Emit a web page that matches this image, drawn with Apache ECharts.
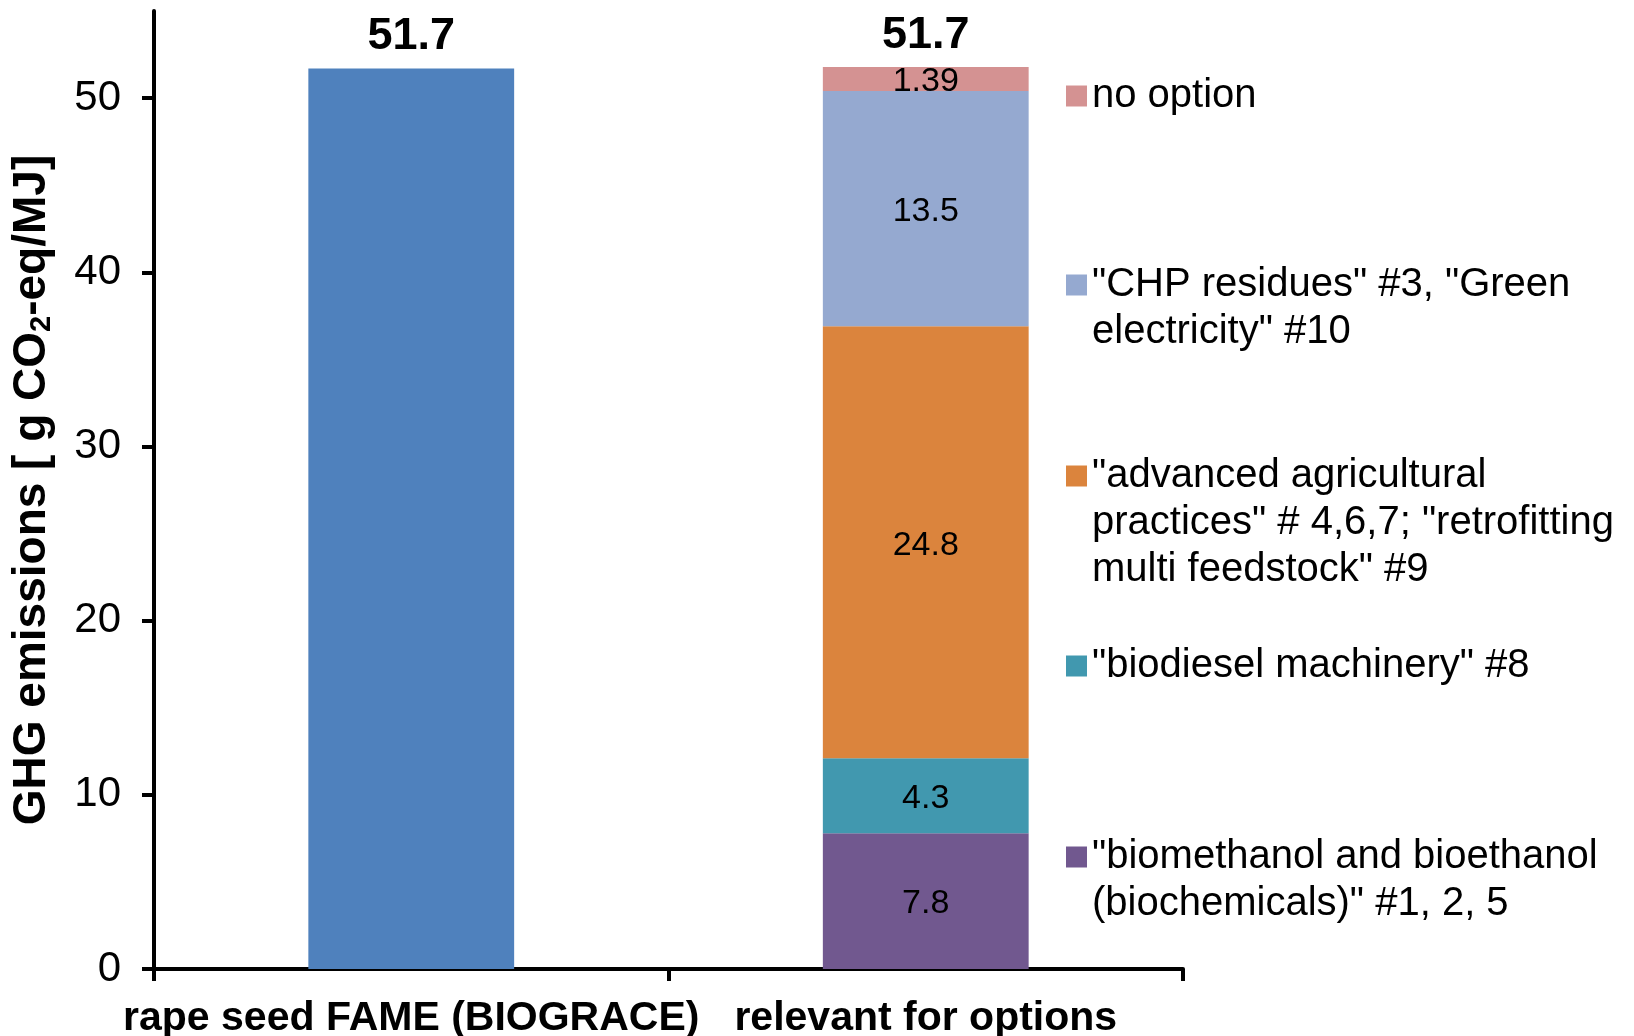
<!DOCTYPE html>
<html>
<head>
<meta charset="utf-8">
<title>GHG emissions of rape seed FAME</title>
<script src="https://cdn.jsdelivr.net/npm/echarts@6/dist/echarts.min.js"></script>
<style>
  html, body { margin: 0; padding: 0; background: #fff; }
  #chart { width: 1634px; height: 1036px; }
</style>
</head>
<body>
<div id="chart"></div>
<script>
// Categories on the x axis
const categories = ['rape seed FAME (BIOGRACE)', 'relevant for options'];

// Reference pathway (left column)
const referenceValues = [51.7, '-'];

// Breakdown of the right column, bottom to top
const optionLabels = [
  '"biomethanol and bioethanol\n(biochemicals)" #1, 2, 5',
  '"biodiesel machinery" #8',
  '"advanced agricultural\npractices" # 4,6,7; "retrofitting\nmulti feedstock" #9',
  '"CHP residues" #3, "Green\nelectricity" #10',
  'no option'
];
const biochemicals = ['-', 7.8];
const biodieselMachinery = ['-', 4.3];
const agriculturalPractices = ['-', 24.8];
const chpGreenElectricity = ['-', 13.5];
const noOption = ['-', 1.39];

// Totals printed above each column
const totals = [51.7, 51.7];

// Y axis ticks
const yTicks = [0, 10, 20, 30, 40, 50];

const FONT = '"Liberation Sans", Arial, Helvetica, sans-serif';
const colors = ['#71588F', '#4198AF', '#DB843D', '#95A9D0', '#D49292'];
const optionData = [biochemicals, biodieselMachinery, agriculturalPractices, chpGreenElectricity, noOption];

const chart = echarts.init(document.getElementById('chart'), null, { renderer: 'canvas' });

const segmentLabel = {
  show: true,
  position: 'inside',
  offset: [0, 3],
  color: '#000',
  fontFamily: FONT,
  fontSize: 34,
  formatter: p => String(p.value)
};

const series = [{
  name: 'reference',
  type: 'bar',
  stack: 'col',
  barWidth: '40%',
  data: referenceValues,
  itemStyle: { color: '#4F81BD' }
}];

optionData.forEach((values, i) => {
  series.push({
    name: optionLabels[i],
    type: 'bar',
    stack: 'col',
    barWidth: '40%',
    data: values,
    itemStyle: { color: colors[i] },
    label: segmentLabel
  });
});

// Zero-height cap carrying the column totals
series.push({
  name: 'total',
  type: 'bar',
  stack: 'col',
  barWidth: '40%',
  data: [0, 0],
  itemStyle: { color: 'transparent' },
  label: {
    show: true,
    position: 'top',
    distance: 9,
    color: '#000',
    fontFamily: FONT,
    fontWeight: 'bold',
    fontSize: 45,
    formatter: p => totals[p.dataIndex].toFixed(1)
  }
});

// One legend block per option; blank lines above the text keep the
// swatch level with the first text line
const LINE = 47;
const legendCenters = [857, 666, 476, 285, 96];
const legends = optionLabels.map((label, i) => {
  const n = label.split('\n').length;
  const h = (2 * n - 1) * LINE;
  return {
    orient: 'vertical',
    left: 1066,
    top: legendCenters[i] - h / 2,
    padding: 0,
    itemWidth: 21,
    itemHeight: 21,
    icon: 'rect',
    selectedMode: false,
    data: [label],
    formatter: name => '\n'.repeat(n - 1) + name,
    textStyle: {
      color: '#000',
      fontFamily: FONT,
      fontSize: 40,
      lineHeight: LINE
    }
  };
});

chart.setOption({
  animation: false,
  backgroundColor: '#fff',
  textStyle: { fontFamily: FONT },
  grid: { left: 154, right: 451, top: 11, bottom: 67, containLabel: false, outerBoundsMode: 'none' },
  legend: legends,
  xAxis: {
    type: 'category',
    data: categories,
    axisLine: { lineStyle: { color: '#000', width: 4 } },
    axisTick: { show: true, length: 12, lineStyle: { color: '#000', width: 4 } },
    axisLabel: {
      color: '#000',
      fontFamily: FONT,
      fontWeight: 'bold',
      fontSize: 41,
      margin: 29,
      interval: 0
    }
  },
  yAxis: {
    type: 'value',
    min: 0,
    max: 55,
    interval: 10,
    name: 'GHG emissions [ g CO{sub|2}-eq/MJ]',
    nameLocation: 'middle',
    nameGap: 98,
    nameTextStyle: {
      color: '#000',
      fontFamily: FONT,
      fontWeight: 'bold',
      fontSize: 46,
      rich: {
        sub: { fontFamily: FONT, fontWeight: 'bold', fontSize: 29, padding: [19, 0, 0, 0], color: '#000' }
      }
    },
    axisLine: { show: true, lineStyle: { color: '#000', width: 4 } },
    axisTick: { show: true, length: 12, lineStyle: { color: '#000', width: 4 }, customValues: yTicks },
    axisLabel: {
      color: '#000',
      fontFamily: FONT,
      fontSize: 42,
      margin: 33,
      customValues: yTicks
    },
    splitLine: { show: false }
  },
  series: series
});
</script>
</body>
</html>
